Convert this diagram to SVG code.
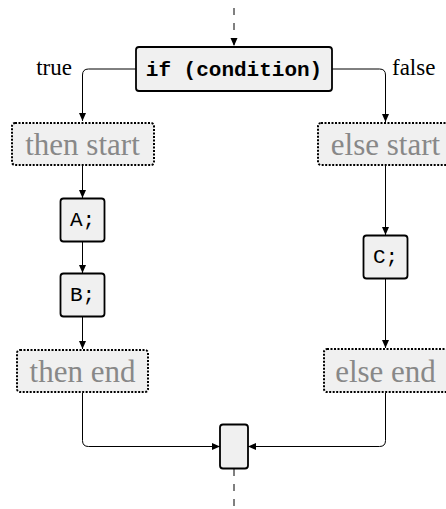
<svg xmlns="http://www.w3.org/2000/svg" width="446" height="509" viewBox="0 0 446 509">
<defs>
<marker id="arr" markerUnits="userSpaceOnUse" markerWidth="9" markerHeight="8" refX="8" refY="3.5" orient="auto">
<path d="M0,0 L8,3.5 L0,7 z" fill="#000"/>
</marker>
<style>
.box{fill:#f0f0f0;stroke:#000;stroke-width:1.8}
.dot{fill:#f0f0f0;stroke:#000;stroke-width:2;stroke-dasharray:2 1.5}
.code{font-family:"Liberation Mono",monospace;font-size:21px;fill:#000;text-anchor:middle}
.gray{font-family:"Liberation Serif",serif;font-size:31px;fill:#888;text-anchor:middle}
.lbl{font-family:"Liberation Serif",serif;font-size:23px;fill:#000}
.ln{fill:none;stroke:#000;stroke-width:1}
.dash{fill:none;stroke:#000;stroke-width:1;stroke-dasharray:7 8}
</style>
</defs>
<rect width="446" height="509" fill="#fff"/>
<g id="connectors">
<path class="dash" d="M234,8 V46" marker-end="url(#arr)"/>
<path class="ln" d="M136,69 H88.5 Q82.5,69 82.5,75 V121" marker-end="url(#arr)"/>
<path class="ln" d="M332,69 H379.5 Q385.5,69 385.5,75 V122" marker-end="url(#arr)"/>
<path class="ln" d="M82.5,165 V198" marker-end="url(#arr)"/>
<path class="ln" d="M82.5,242 V273" marker-end="url(#arr)"/>
<path class="ln" d="M82.5,317 V349" marker-end="url(#arr)"/>
<path class="ln" d="M385.5,166 V235" marker-end="url(#arr)"/>
<path class="ln" d="M385.5,279 V348" marker-end="url(#arr)"/>
<path class="ln" d="M82.5,393 V440.5 Q82.5,446.5 88.5,446.5 H220" marker-end="url(#arr)"/>
<path class="ln" d="M385.5,393 V440.5 Q385.5,446.5 379.5,446.5 H248" marker-end="url(#arr)"/>
<path class="dash" d="M234,469 V509"/>
</g>
<g id="labels">
<text class="lbl" x="72" y="75" text-anchor="end">true</text>
<text class="lbl" x="392" y="75">false</text>
</g>
<g id="if">
<rect class="box" x="136" y="47" width="196" height="44" rx="3"/>
<text class="code" x="234" y="76" font-weight="bold">if (condition)</text>
</g>
<g id="then-start">
<rect class="dot" x="12" y="123" width="142" height="42" rx="3"/>
<text class="gray" x="82.5" y="155">then start</text>
</g>
<g id="A">
<rect class="box" x="60.5" y="198.5" width="44" height="43" rx="3"/>
<text class="code" x="82.5" y="226">A;</text>
</g>
<g id="B">
<rect class="box" x="60.5" y="273.5" width="44" height="43" rx="3"/>
<text class="code" x="82.5" y="301">B;</text>
</g>
<g id="then-end">
<rect class="dot" x="17" y="350" width="131" height="42" rx="3"/>
<text class="gray" x="82.5" y="382">then end</text>
</g>
<g id="else-start">
<rect class="dot" x="318" y="123" width="137" height="42" rx="3"/>
<text class="gray" x="385.5" y="155">else start</text>
</g>
<g id="C">
<rect class="box" x="363.5" y="235.5" width="44" height="43" rx="3"/>
<text class="code" x="385.5" y="263">C;</text>
</g>
<g id="else-end">
<rect class="dot" x="324" y="349" width="125" height="43" rx="3"/>
<text class="gray" x="385.5" y="382">else end</text>
</g>
<g id="merge">
<rect class="box" x="220" y="424.5" width="28" height="44" rx="3"/>
</g>
</svg>
